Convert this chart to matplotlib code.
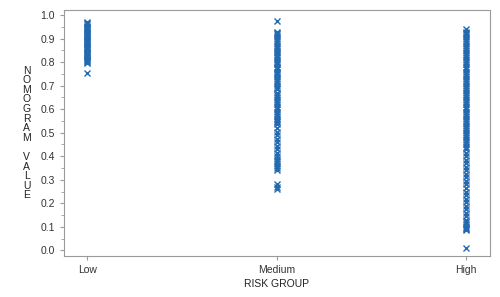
import matplotlib
matplotlib.use('Agg')
import matplotlib.pyplot as plt
from matplotlib.ticker import MultipleLocator

# risk group categories
groups = ['Low', 'Medium', 'High']

# nomogram values for each risk group
low_vals = [0.97, 0.965, 0.96, 0.955, 0.95, 0.945, 0.94, 0.935, 0.93, 0.925,
            0.92, 0.915, 0.91, 0.905, 0.90, 0.895, 0.89, 0.885, 0.88, 0.875,
            0.87, 0.865, 0.86, 0.855, 0.85, 0.845, 0.84, 0.835, 0.83, 0.825,
            0.82, 0.815, 0.81, 0.805, 0.80, 0.795, 0.755]

medium_vals = [0.975, 0.93, 0.925, 0.92, 0.91, 0.90, 0.89, 0.88, 0.87, 0.86,
               0.85, 0.845, 0.84, 0.83, 0.82, 0.81, 0.80, 0.795, 0.79, 0.78,
               0.77, 0.76, 0.755, 0.75, 0.74, 0.73, 0.72, 0.71, 0.70, 0.69,
               0.685, 0.67, 0.66, 0.65, 0.64, 0.63, 0.62, 0.61, 0.60, 0.59,
               0.58, 0.57, 0.56, 0.55, 0.545,
               0.535, 0.52, 0.505, 0.49, 0.475, 0.46, 0.445, 0.43, 0.415,
               0.40, 0.39, 0.38, 0.37, 0.36, 0.35, 0.34,
               0.28, 0.27, 0.26]

high_vals = [0.94, 0.93, 0.925, 0.92, 0.91, 0.90, 0.89, 0.88, 0.87, 0.86,
             0.85, 0.84, 0.83, 0.82, 0.81, 0.80, 0.79, 0.78, 0.77, 0.76,
             0.75, 0.74, 0.73, 0.72, 0.71, 0.70, 0.69, 0.68, 0.67, 0.66,
             0.65, 0.64, 0.63, 0.62, 0.61, 0.60, 0.59, 0.58, 0.57, 0.56,
             0.55, 0.54, 0.53, 0.52, 0.51, 0.50, 0.49, 0.48, 0.47, 0.46,
             0.45, 0.44,
             0.43, 0.415, 0.40, 0.385, 0.37, 0.355, 0.34, 0.325, 0.31,
             0.295, 0.28, 0.265, 0.25, 0.235, 0.22, 0.205, 0.19, 0.175,
             0.16, 0.145, 0.13, 0.12, 0.11, 0.10, 0.095, 0.09, 0.085, 0.01]

plt.rcParams['font.family'] = ['Liberation Sans', 'DejaVu Sans']

fig = plt.figure(figsize=(5, 2.97), dpi=100)
ax = fig.add_axes([0.128, 0.138, 0.852, 0.828])

color = '#2369b0'
for i, vals in enumerate([low_vals, medium_vals, high_vals]):
    ax.plot([i + 1] * len(vals), vals, linestyle='none', marker='x',
            markersize=5, markeredgewidth=1.0, color=color)

ax.set_xlim(0.878, 3.127)
ax.set_ylim(-0.024, 1.021)
ax.set_xticks([1, 2, 3])
ax.set_xticklabels(groups)
ax.yaxis.set_major_locator(MultipleLocator(0.1))
ax.yaxis.set_minor_locator(MultipleLocator(0.05))
ax.yaxis.set_major_formatter(plt.FormatStrFormatter('%.1f'))

for s in ax.spines.values():
    s.set_color('#9a9a9a')
    s.set_linewidth(0.8)
ax.tick_params(colors='#9a9a9a', labelcolor='#333333', labelsize=7.5, length=3, width=0.8)
ax.tick_params(which='minor', colors='#9a9a9a', length=2, width=0.6)

ax.set_xlabel('RISK GROUP', fontsize=7.5, color='#222222', labelpad=3)
ax.set_ylabel('\n'.join('NOMOGRAM VALUE'), fontsize=7.5, color='#222222',
              rotation=0, linespacing=0.95, va='center', labelpad=10)

fig.savefig('out.png', dpi=100)
